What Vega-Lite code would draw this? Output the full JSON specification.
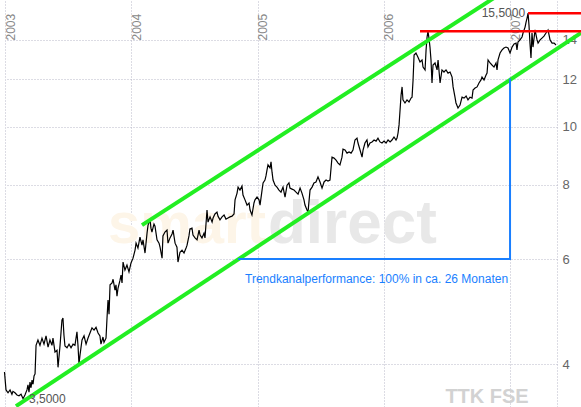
{
  "$schema": "https://vega.github.io/schema/vega-lite/v6.json",
  "width": 552,
  "height": 407,
  "autosize": {"type": "none"},
  "padding": {"left": 5, "right": 24, "top": 0, "bottom": 0},
  "background": "white",
  "config": {"view": {"stroke": null}, "font": "Liberation Sans"},
  "datasets": {
    "price": [
      {"t":2002.996,"p":3.88},{"t":2003.008,"p":3.62},{"t":2003.024,"p":3.58},{"t":2003.040,"p":3.62},{"t":2003.055,"p":3.56},{"t":2003.063,"p":3.60},{"t":2003.079,"p":3.58},{"t":2003.095,"p":3.55},{"t":2003.111,"p":3.54},{"t":2003.127,"p":3.56},{"t":2003.143,"p":3.50},{"t":2003.158,"p":3.55},{"t":2003.174,"p":3.62},{"t":2003.182,"p":3.69},{"t":2003.190,"p":3.59},{"t":2003.198,"p":3.73},{"t":2003.206,"p":3.65},{"t":2003.214,"p":3.76},{"t":2003.222,"p":3.70},{"t":2003.230,"p":3.82},{"t":2003.238,"p":3.85},{"t":2003.246,"p":4.30},{"t":2003.261,"p":4.39},{"t":2003.277,"p":4.30},{"t":2003.293,"p":4.42},{"t":2003.309,"p":4.32},{"t":2003.325,"p":4.46},{"t":2003.341,"p":4.27},{"t":2003.356,"p":4.39},{"t":2003.372,"p":4.30},{"t":2003.380,"p":4.42},{"t":2003.396,"p":4.19},{"t":2003.412,"p":4.22},{"t":2003.420,"p":3.95},{"t":2003.436,"p":4.30},{"t":2003.451,"p":4.74},{"t":2003.459,"p":4.78},{"t":2003.467,"p":4.47},{"t":2003.475,"p":4.29},{"t":2003.491,"p":4.26},{"t":2003.507,"p":4.32},{"t":2003.523,"p":4.26},{"t":2003.539,"p":4.32},{"t":2003.554,"p":4.30},{"t":2003.570,"p":4.53},{"t":2003.578,"p":4.30},{"t":2003.586,"p":4.00},{"t":2003.594,"p":4.14},{"t":2003.610,"p":4.39},{"t":2003.626,"p":4.46},{"t":2003.642,"p":4.32},{"t":2003.657,"p":4.42},{"t":2003.673,"p":4.51},{"t":2003.689,"p":4.60},{"t":2003.705,"p":4.56},{"t":2003.721,"p":4.61},{"t":2003.737,"p":4.51},{"t":2003.752,"p":4.46},{"t":2003.760,"p":4.32},{"t":2003.776,"p":4.44},{"t":2003.784,"p":4.35},{"t":2003.800,"p":4.42},{"t":2003.808,"p":4.78},{"t":2003.816,"p":5.12},{"t":2003.824,"p":4.85},{"t":2003.832,"p":5.43},{"t":2003.848,"p":5.47},{"t":2003.856,"p":5.55},{"t":2003.871,"p":5.32},{"t":2003.879,"p":5.43},{"t":2003.887,"p":5.20},{"t":2003.895,"p":5.36},{"t":2003.911,"p":5.53},{"t":2003.919,"p":5.64},{"t":2003.927,"p":5.47},{"t":2003.935,"p":5.93},{"t":2003.950,"p":5.75},{"t":2003.966,"p":5.86},{"t":2003.982,"p":5.71},{"t":2003.998,"p":5.91},{"t":2004.014,"p":6.02},{"t":2004.030,"p":6.21},{"t":2004.038,"p":6.38},{"t":2004.053,"p":6.26},{"t":2004.069,"p":6.53},{"t":2004.085,"p":6.33},{"t":2004.093,"p":6.46},{"t":2004.109,"p":6.14},{"t":2004.125,"p":6.63},{"t":2004.133,"p":6.84},{"t":2004.149,"p":6.98},{"t":2004.156,"p":6.76},{"t":2004.164,"p":6.66},{"t":2004.180,"p":6.87},{"t":2004.188,"p":6.81},{"t":2004.204,"p":6.46},{"t":2004.220,"p":6.38},{"t":2004.228,"p":6.28},{"t":2004.244,"p":6.02},{"t":2004.251,"p":6.56},{"t":2004.267,"p":6.66},{"t":2004.283,"p":6.71},{"t":2004.291,"p":6.38},{"t":2004.307,"p":6.51},{"t":2004.323,"p":6.61},{"t":2004.331,"p":6.71},{"t":2004.347,"p":6.38},{"t":2004.362,"p":6.28},{"t":2004.370,"p":5.93},{"t":2004.386,"p":6.16},{"t":2004.402,"p":6.21},{"t":2004.418,"p":6.14},{"t":2004.434,"p":6.26},{"t":2004.442,"p":6.33},{"t":2004.457,"p":6.56},{"t":2004.465,"p":6.74},{"t":2004.481,"p":6.76},{"t":2004.489,"p":6.58},{"t":2004.505,"p":6.51},{"t":2004.521,"p":6.46},{"t":2004.537,"p":6.71},{"t":2004.545,"p":6.58},{"t":2004.560,"p":6.51},{"t":2004.576,"p":6.63},{"t":2004.584,"p":6.51},{"t":2004.600,"p":7.25},{"t":2004.608,"p":6.92},{"t":2004.624,"p":7.06},{"t":2004.640,"p":6.92},{"t":2004.648,"p":7.03},{"t":2004.663,"p":7.14},{"t":2004.679,"p":7.19},{"t":2004.687,"p":7.08},{"t":2004.703,"p":6.98},{"t":2004.719,"p":7.06},{"t":2004.735,"p":7.11},{"t":2004.750,"p":7.00},{"t":2004.766,"p":7.03},{"t":2004.782,"p":7.06},{"t":2004.798,"p":7.08},{"t":2004.814,"p":7.14},{"t":2004.822,"p":7.54},{"t":2004.838,"p":7.74},{"t":2004.846,"p":7.92},{"t":2004.861,"p":7.83},{"t":2004.877,"p":7.95},{"t":2004.885,"p":7.68},{"t":2004.901,"p":7.54},{"t":2004.917,"p":7.39},{"t":2004.933,"p":7.45},{"t":2004.941,"p":7.25},{"t":2004.956,"p":7.11},{"t":2004.972,"p":7.45},{"t":2004.980,"p":7.54},{"t":2004.996,"p":7.62},{"t":2005.012,"p":7.54},{"t":2005.020,"p":7.39},{"t":2005.036,"p":7.83},{"t":2005.044,"p":8.05},{"t":2005.059,"p":8.14},{"t":2005.067,"p":8.27},{"t":2005.075,"p":8.46},{"t":2005.083,"p":8.63},{"t":2005.099,"p":8.53},{"t":2005.107,"p":8.73},{"t":2005.115,"p":8.39},{"t":2005.123,"p":8.14},{"t":2005.139,"p":7.98},{"t":2005.154,"p":7.92},{"t":2005.170,"p":7.83},{"t":2005.186,"p":7.77},{"t":2005.202,"p":7.92},{"t":2005.218,"p":7.62},{"t":2005.234,"p":7.98},{"t":2005.249,"p":8.05},{"t":2005.257,"p":7.89},{"t":2005.273,"p":7.86},{"t":2005.289,"p":7.83},{"t":2005.305,"p":7.77},{"t":2005.321,"p":7.71},{"t":2005.337,"p":7.89},{"t":2005.352,"p":7.74},{"t":2005.368,"p":7.54},{"t":2005.376,"p":7.39},{"t":2005.392,"p":7.25},{"t":2005.400,"p":7.19},{"t":2005.416,"p":7.83},{"t":2005.432,"p":7.92},{"t":2005.447,"p":8.05},{"t":2005.463,"p":8.08},{"t":2005.479,"p":8.24},{"t":2005.495,"p":8.08},{"t":2005.511,"p":7.89},{"t":2005.527,"p":8.08},{"t":2005.543,"p":8.14},{"t":2005.558,"p":8.11},{"t":2005.574,"p":8.14},{"t":2005.590,"p":8.89},{"t":2005.606,"p":8.86},{"t":2005.622,"p":8.79},{"t":2005.638,"p":8.69},{"t":2005.653,"p":8.63},{"t":2005.669,"p":8.89},{"t":2005.677,"p":9.17},{"t":2005.693,"p":9.14},{"t":2005.709,"p":9.03},{"t":2005.725,"p":9.07},{"t":2005.741,"p":9.03},{"t":2005.756,"p":9.14},{"t":2005.772,"p":9.50},{"t":2005.788,"p":9.57},{"t":2005.796,"p":9.39},{"t":2005.812,"p":9.14},{"t":2005.828,"p":8.89},{"t":2005.836,"p":9.14},{"t":2005.851,"p":9.39},{"t":2005.867,"p":9.50},{"t":2005.875,"p":9.25},{"t":2005.891,"p":9.39},{"t":2005.907,"p":9.43},{"t":2005.923,"p":9.50},{"t":2005.939,"p":9.46},{"t":2005.954,"p":9.57},{"t":2005.970,"p":9.43},{"t":2005.986,"p":9.39},{"t":2006.002,"p":9.46},{"t":2006.018,"p":9.39},{"t":2006.034,"p":9.50},{"t":2006.050,"p":9.43},{"t":2006.065,"p":9.50},{"t":2006.081,"p":9.61},{"t":2006.097,"p":9.50},{"t":2006.105,"p":9.57},{"t":2006.113,"p":9.76},{"t":2006.121,"p":10.07},{"t":2006.129,"p":10.67},{"t":2006.137,"p":11.30},{"t":2006.145,"p":11.66},{"t":2006.152,"p":11.09},{"t":2006.168,"p":10.96},{"t":2006.184,"p":11.09},{"t":2006.200,"p":11.00},{"t":2006.216,"p":11.17},{"t":2006.224,"p":11.21},{"t":2006.232,"p":11.98},{"t":2006.240,"p":13.19},{"t":2006.255,"p":13.29},{"t":2006.271,"p":13.08},{"t":2006.287,"p":12.84},{"t":2006.303,"p":12.94},{"t":2006.311,"p":12.59},{"t":2006.327,"p":12.45},{"t":2006.335,"p":13.45},{"t":2006.343,"p":14.14},{"t":2006.350,"p":14.45},{"t":2006.358,"p":14.08},{"t":2006.366,"p":13.60},{"t":2006.374,"p":12.94},{"t":2006.382,"p":11.84},{"t":2006.390,"p":12.69},{"t":2006.406,"p":12.79},{"t":2006.422,"p":12.45},{"t":2006.430,"p":12.94},{"t":2006.446,"p":11.84},{"t":2006.461,"p":12.45},{"t":2006.477,"p":12.35},{"t":2006.493,"p":12.45},{"t":2006.509,"p":12.30},{"t":2006.525,"p":12.35},{"t":2006.541,"p":12.11},{"t":2006.549,"p":11.66},{"t":2006.564,"p":11.21},{"t":2006.572,"p":10.96},{"t":2006.588,"p":10.75},{"t":2006.604,"p":10.87},{"t":2006.620,"p":11.21},{"t":2006.636,"p":11.17},{"t":2006.652,"p":11.26},{"t":2006.667,"p":11.09},{"t":2006.683,"p":11.21},{"t":2006.699,"p":11.17},{"t":2006.707,"p":11.52},{"t":2006.723,"p":11.61},{"t":2006.739,"p":11.66},{"t":2006.754,"p":11.84},{"t":2006.770,"p":11.98},{"t":2006.778,"p":12.11},{"t":2006.794,"p":11.98},{"t":2006.810,"p":12.21},{"t":2006.818,"p":12.30},{"t":2006.826,"p":12.94},{"t":2006.842,"p":12.79},{"t":2006.857,"p":12.69},{"t":2006.873,"p":12.59},{"t":2006.889,"p":12.79},{"t":2006.897,"p":12.45},{"t":2006.905,"p":12.94},{"t":2006.921,"p":13.29},{"t":2006.937,"p":13.45},{"t":2006.952,"p":13.55},{"t":2006.968,"p":13.60},{"t":2006.984,"p":13.55},{"t":2007.000,"p":13.29},{"t":2007.016,"p":13.60},{"t":2007.032,"p":13.76},{"t":2007.048,"p":13.81},{"t":2007.055,"p":13.45},{"t":2007.063,"p":13.87},{"t":2007.079,"p":13.98},{"t":2007.095,"p":14.14},{"t":2007.103,"p":14.36},{"t":2007.119,"p":14.69},{"t":2007.127,"p":14.98},{"t":2007.135,"p":15.21},{"t":2007.143,"p":15.50},{"t":2007.150,"p":14.81},{"t":2007.158,"p":13.81},{"t":2007.166,"p":13.04},{"t":2007.174,"p":14.36},{"t":2007.182,"p":13.60},{"t":2007.198,"p":14.53},{"t":2007.214,"p":13.98},{"t":2007.222,"p":13.81},{"t":2007.238,"p":13.98},{"t":2007.253,"p":14.08},{"t":2007.269,"p":14.19},{"t":2007.285,"p":14.36},{"t":2007.301,"p":14.53},{"t":2007.317,"p":13.98},{"t":2007.333,"p":13.81},{"t":2007.349,"p":13.81},{"t":2007.364,"p":13.71}
    ],
    "channel": [
      {"line": "upper", "t": 2004.085, "v": 6.84},
      {"line": "upper", "t": 2006.921, "v": 16.69},
      {"line": "lower", "t": 2003.087, "v": 3.40},
      {"line": "lower", "t": 2007.562, "v": 14.36}
    ],
    "resistance": [
      {"t1": 2006.287, "t2": 2007.562, "v": 14.45},
      {"t1": 2007.143, "t2": 2007.562, "v": 15.5}
    ],
    "perf": [
      {"o": 1, "t": 2004.846, "v": 6.0},
      {"o": 2, "t": 2007.0, "v": 6.0},
      {"o": 3, "t": 2007.0, "v": 12.05}
    ],
    "notes": [
      {"t": 2004.901, "v": 5.55, "label": "Trendkanalperformance: 100% in ca. 26 Monaten"}
    ],
    "high": [{"t": 2007.143, "v": 15.5, "label": "15,5000"}],
    "low": [{"t": 2003.190, "v": 3.5, "label": "3,5000"}],
    "watermark": [
      {"t": 2005.067, "v": 6.38, "label": "smart", "part": "a"},
      {"t": 2005.083, "v": 6.38, "label": "direct", "part": "b"}
    ],
    "source": [{"t": 2006.818, "v": 3.395, "label": "TTK FSE"}]
  },
  "encoding": {
    "x": {"field": "t", "type": "quantitative",
      "scale": {"domain": [2003, 2007.372], "nice": false, "zero": false},
      "axis": {"orient": "top", "values": [2003, 2004, 2005, 2006, 2007], "format": "d", "title": null,
        "labelAngle": 270, "labelAlign": "left", "labelBaseline": "top", "labelFlush": false, "labelOverlap": false,
        "offset": -42, "labelPadding": 2, "ticks": false, "domain": false,
        "labelColor": "#888888", "labelFontSize": 12, "labelFont": "Liberation Sans",
        "grid": true, "gridColor": "#b8b8c8", "gridDash": [1, 2], "gridWidth": 1}},
    "y": {"field": "v", "type": "quantitative",
      "scale": {"type": "log", "domain": [3.389, 16.31], "nice": false, "zero": false},
      "axis": {"orient": "right", "values": [4, 6, 8, 10, 12, 14], "format": "d", "title": null,
        "labelAlign": "left", "labelBaseline": "middle", "labelFlush": false, "labelOverlap": false,
        "labelPadding": 5, "ticks": false, "domain": true, "domainColor": "#b8b8c8", "domainDash": [1, 2],
        "labelColor": "#666666", "labelFontSize": 13, "labelFont": "Liberation Sans",
        "grid": true, "gridColor": "#b8b8c8", "gridDash": [1, 2], "gridWidth": 1}}
  },
  "layer": [
    {
      "data": {"name": "watermark"},
      "transform": [{"filter": "datum.part == 'a'"}],
      "mark": {"type": "text", "fontWeight": "bold", "fontSize": 58, "color": "#fdf5e8", "align": "right", "baseline": "alphabetic"},
      "encoding": {"text": {"field": "label"}}
    },
    {
      "data": {"name": "watermark"},
      "transform": [{"filter": "datum.part == 'b'"}],
      "mark": {"type": "text", "fontWeight": "bold", "fontSize": 62, "color": "#e8e8e8", "align": "left", "baseline": "alphabetic"},
      "encoding": {"text": {"field": "label"}}
    },
    {
      "data": {"name": "source"},
      "mark": {"type": "text", "fontWeight": "bold", "fontSize": 20, "color": "#d2d2d2", "align": "center", "baseline": "bottom", "letterSpacing": 4},
      "encoding": {"text": {"field": "label"}}
    },
    {
      "data": {"name": "price"},
      "mark": {"type": "line", "color": "#000000", "strokeWidth": 1.2, "interpolate": "linear"},
      "encoding": {"y": {"field": "p", "type": "quantitative"}}
    },
    {
      "data": {"name": "channel"},
      "mark": {"type": "line", "color": "#22ee22", "strokeWidth": 4},
      "encoding": {"detail": {"field": "line"}}
    },
    {
      "data": {"name": "resistance"},
      "mark": {"type": "rule", "color": "#ff0000", "strokeWidth": 2.5},
      "encoding": {"x": {"field": "t1", "type": "quantitative"}, "x2": {"field": "t2"}}
    },
    {
      "data": {"name": "perf"},
      "mark": {"type": "line", "color": "#1a7fff", "strokeWidth": 2},
      "encoding": {"order": {"field": "o"}}
    },
    {
      "data": {"name": "notes"},
      "mark": {"type": "text", "color": "#1a7fff", "fontSize": 12, "align": "left", "baseline": "middle"},
      "encoding": {"text": {"field": "label"}}
    },
    {
      "data": {"name": "high"},
      "mark": {"type": "text", "color": "#555555", "fontSize": 12, "align": "right", "baseline": "middle", "dx": -3},
      "encoding": {"text": {"field": "label"}}
    },
    {
      "data": {"name": "low"},
      "mark": {"type": "text", "color": "#555555", "fontSize": 12, "align": "left", "baseline": "middle"},
      "encoding": {"text": {"field": "label"}}
    }
  ]
}
